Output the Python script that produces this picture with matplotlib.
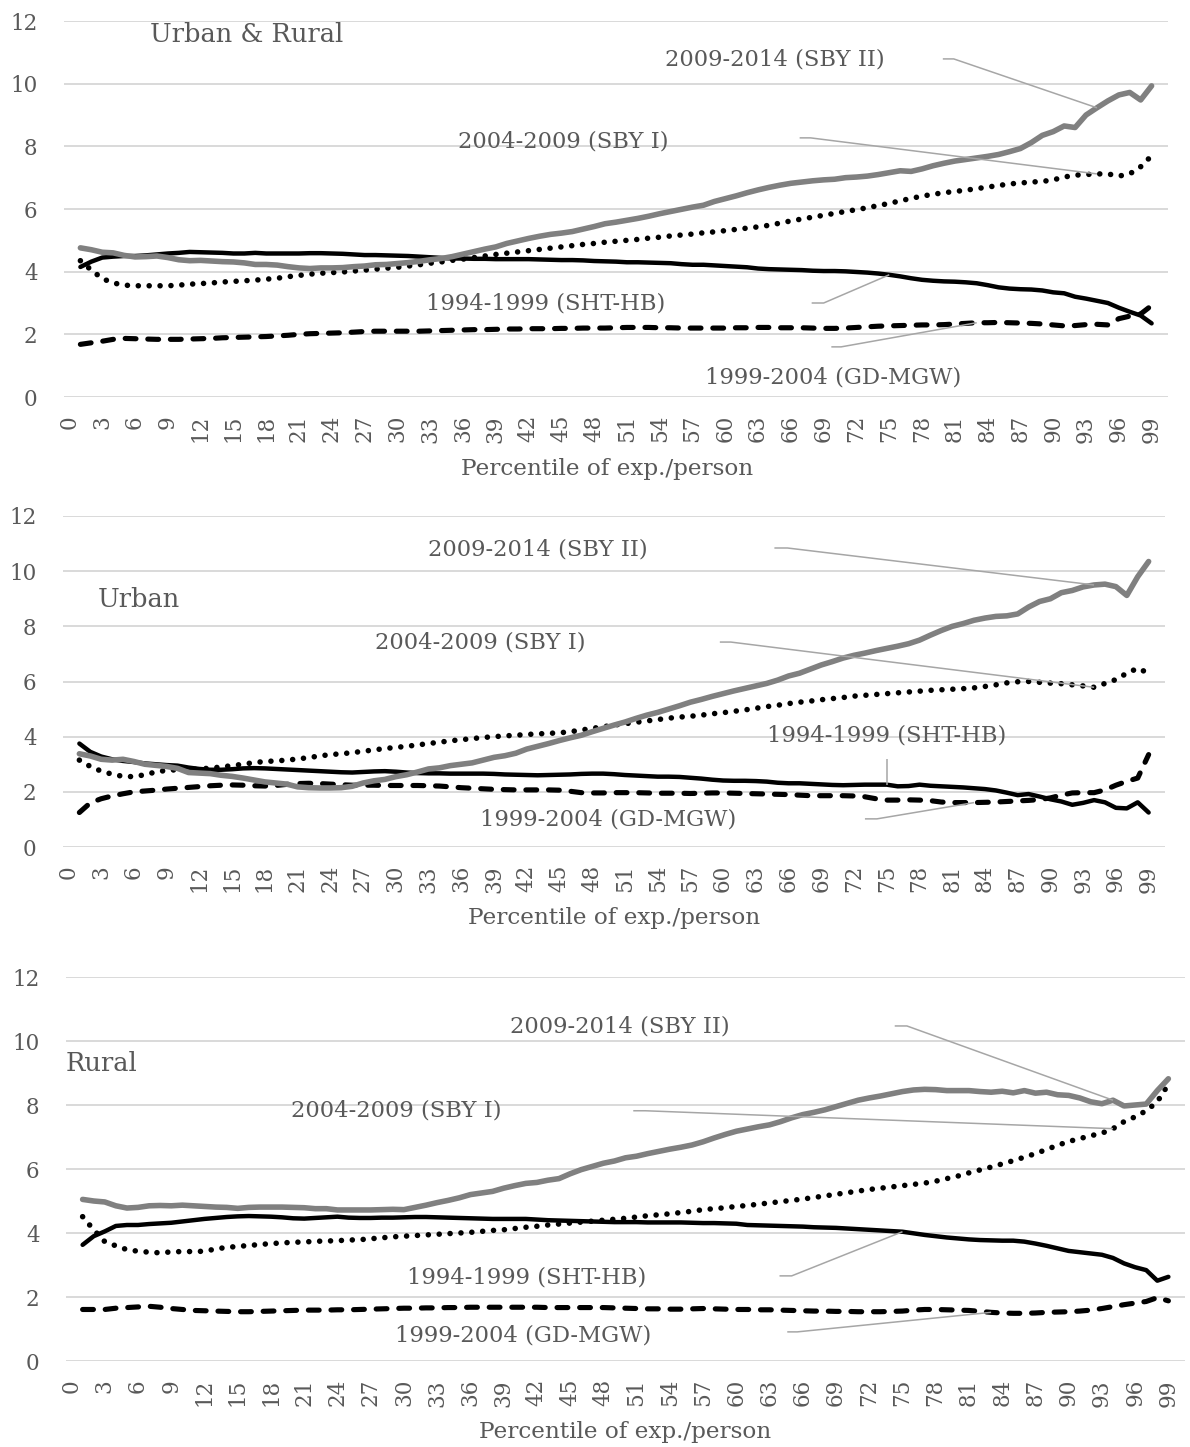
import matplotlib
matplotlib.use("Agg")
import matplotlib.pyplot as plt

# ---------------------------------------------------------------- data
percentiles = list(range(1, 100))
tick_values = list(range(0, 100, 3))
y_ticks = [0, 2, 4, 6, 8, 10, 12]

series_names = ["1994-1999 (SHT-HB)", "1999-2004 (GD-MGW)",
                "2004-2009 (SBY I)", "2009-2014 (SBY II)"]
panel_titles = ["Urban & Rural", "Urban", "Rural"]
x_label = "Percentile of exp./person"

# Urban & Rural
ur_shthb = [4.15, 4.32, 4.45, 4.48, 4.50, 4.50, 4.52, 4.55, 4.58, 4.60,
            4.63, 4.62, 4.61, 4.60, 4.58, 4.58, 4.60, 4.58, 4.58, 4.58,
            4.58, 4.59, 4.59, 4.58, 4.57, 4.55, 4.53, 4.53, 4.52, 4.51,
            4.50, 4.48, 4.46, 4.44, 4.42, 4.42, 4.41, 4.41, 4.40, 4.40,
            4.40, 4.40, 4.39, 4.38, 4.37, 4.37, 4.36, 4.34, 4.33, 4.32,
            4.30, 4.30, 4.29, 4.28, 4.27, 4.24, 4.22, 4.22, 4.20, 4.18,
            4.16, 4.14, 4.10, 4.08, 4.07, 4.06, 4.05, 4.03, 4.02, 4.02,
            4.01, 3.99, 3.97, 3.94, 3.90, 3.85, 3.79, 3.74, 3.71, 3.69,
            3.68, 3.66, 3.63, 3.57, 3.50, 3.46, 3.44, 3.43, 3.40, 3.34,
            3.31, 3.20, 3.14, 3.07, 3.00, 2.85, 2.72, 2.60, 2.35]
ur_gdmgw = [1.68, 1.73, 1.78, 1.84, 1.87, 1.86, 1.85, 1.84, 1.84, 1.84,
            1.85, 1.86, 1.87, 1.89, 1.90, 1.91, 1.92, 1.93, 1.95, 1.97,
            2.00, 2.02, 2.03, 2.04, 2.05, 2.07, 2.09, 2.10, 2.10, 2.10,
            2.10, 2.10, 2.11, 2.12, 2.13, 2.14, 2.15, 2.15, 2.16, 2.17,
            2.17, 2.18, 2.18, 2.18, 2.19, 2.19, 2.20, 2.20, 2.20, 2.21,
            2.22, 2.22, 2.22, 2.21, 2.21, 2.20, 2.20, 2.20, 2.20, 2.20,
            2.21, 2.21, 2.22, 2.22, 2.21, 2.21, 2.21, 2.20, 2.19, 2.19,
            2.20, 2.22, 2.24, 2.26, 2.27, 2.28, 2.29, 2.30, 2.30, 2.31,
            2.33, 2.35, 2.37, 2.37, 2.38, 2.37, 2.36, 2.35, 2.33, 2.30,
            2.27, 2.28, 2.31, 2.32, 2.30, 2.50, 2.58, 2.65, 2.92]
ur_sby1 = [4.35, 4.05, 3.78, 3.64, 3.57, 3.55, 3.55, 3.55, 3.55, 3.57,
           3.60, 3.62, 3.64, 3.67, 3.69, 3.71, 3.73, 3.76, 3.79, 3.84,
           3.88, 3.92, 3.95, 3.97, 3.99, 4.02, 4.05, 4.08, 4.11, 4.14,
           4.18, 4.22, 4.27, 4.31, 4.36, 4.40, 4.45, 4.50, 4.55, 4.59,
           4.63, 4.67, 4.71, 4.75, 4.79, 4.83, 4.87, 4.90, 4.94, 4.97,
           5.00, 5.03, 5.07, 5.10, 5.14, 5.17, 5.20, 5.24, 5.27, 5.31,
           5.35, 5.39, 5.43, 5.48, 5.55, 5.62, 5.68, 5.74, 5.80, 5.86,
           5.92, 5.98, 6.04, 6.11, 6.18, 6.26, 6.34, 6.41, 6.47, 6.52,
           6.56, 6.60, 6.65, 6.70, 6.75, 6.80, 6.83, 6.86, 6.88, 6.93,
           7.02, 7.08, 7.10, 7.12, 7.12, 7.05, 7.12, 7.35, 7.70]
ur_sby2 = [4.76, 4.70, 4.62, 4.60, 4.52, 4.47, 4.48, 4.50, 4.45, 4.38,
           4.35, 4.36, 4.34, 4.32, 4.31, 4.28, 4.23, 4.23, 4.21, 4.16,
           4.12, 4.10, 4.12, 4.12, 4.13, 4.16, 4.18, 4.22, 4.23, 4.26,
           4.29, 4.33, 4.38, 4.42, 4.48, 4.56, 4.64, 4.72, 4.79, 4.90,
           4.98, 5.06, 5.13, 5.19, 5.23, 5.28, 5.36, 5.44, 5.53, 5.58,
           5.64, 5.70, 5.77, 5.85, 5.92, 5.99, 6.06, 6.12, 6.24, 6.33,
           6.42, 6.52, 6.61, 6.69, 6.76, 6.82, 6.86, 6.90, 6.93, 6.95,
           7.00, 7.02, 7.05, 7.10, 7.16, 7.22, 7.20, 7.28, 7.38, 7.46,
           7.53, 7.58, 7.63, 7.68, 7.74, 7.83, 7.93, 8.12, 8.35, 8.47,
           8.65, 8.60, 9.00, 9.23, 9.45, 9.64, 9.72, 9.48, 9.93]

# Urban
u_shthb = [3.75, 3.45, 3.28, 3.18, 3.12, 3.08, 3.03, 3.00, 2.97, 2.95,
           2.88, 2.83, 2.80, 2.80, 2.82, 2.85, 2.86, 2.85, 2.83, 2.81,
           2.79, 2.77, 2.75, 2.73, 2.71, 2.70, 2.72, 2.74, 2.75, 2.73,
           2.70, 2.68, 2.67, 2.67, 2.66, 2.66, 2.66, 2.66, 2.65, 2.63,
           2.62, 2.61, 2.60, 2.61, 2.62, 2.63, 2.65, 2.66, 2.66, 2.64,
           2.61, 2.59, 2.57, 2.55, 2.55, 2.54, 2.51, 2.48, 2.44, 2.41,
           2.40, 2.40, 2.39, 2.37, 2.33, 2.31, 2.31, 2.29, 2.27, 2.25,
           2.24, 2.25, 2.26, 2.26, 2.26, 2.20, 2.21, 2.26, 2.22, 2.20,
           2.18, 2.16, 2.13, 2.10, 2.05, 1.97, 1.88, 1.92, 1.83, 1.73,
           1.65, 1.53, 1.60, 1.70, 1.62, 1.42, 1.40, 1.62, 1.25]
u_gdmgw = [1.25, 1.60, 1.75, 1.85, 1.93, 2.00, 2.03, 2.06, 2.10, 2.13,
           2.16, 2.19, 2.22, 2.24, 2.25, 2.24, 2.22, 2.21, 2.23, 2.27,
           2.30, 2.31, 2.30, 2.28, 2.26, 2.24, 2.24, 2.24, 2.23, 2.23,
           2.23, 2.23, 2.22, 2.21, 2.18, 2.15, 2.13, 2.11, 2.09, 2.08,
           2.07, 2.07, 2.07, 2.07, 2.06, 2.02, 1.97, 1.96, 1.96, 1.97,
           1.97, 1.97, 1.96, 1.95, 1.95, 1.95, 1.94, 1.95, 1.96, 1.96,
           1.95, 1.94, 1.93, 1.92, 1.91, 1.90, 1.88, 1.86, 1.86, 1.86,
           1.86, 1.85, 1.82, 1.75, 1.70, 1.70, 1.71, 1.70, 1.68, 1.63,
           1.61, 1.61, 1.61, 1.62, 1.63, 1.65, 1.67, 1.69, 1.72, 1.78,
           1.88, 1.96, 1.97, 1.97, 2.07, 2.24, 2.38, 2.50, 3.35]
u_sby1 = [3.15, 2.92, 2.75, 2.64, 2.56, 2.55, 2.62, 2.72, 2.78, 2.80,
          2.80, 2.83, 2.86, 2.90, 2.95, 3.00, 3.06, 3.10, 3.12, 3.15,
          3.19, 3.24, 3.30, 3.35, 3.38, 3.42, 3.47, 3.52, 3.57, 3.61,
          3.65, 3.70, 3.75, 3.80, 3.85, 3.89, 3.93, 3.97, 4.00, 4.03,
          4.05, 4.08, 4.10, 4.12, 4.14, 4.18, 4.24, 4.30, 4.36, 4.42,
          4.47, 4.52, 4.57, 4.62, 4.67, 4.71, 4.74, 4.78, 4.83, 4.87,
          4.92, 4.97, 5.03, 5.09, 5.14, 5.20, 5.25, 5.29, 5.34, 5.38,
          5.42, 5.47, 5.50, 5.53, 5.56, 5.59, 5.62, 5.65, 5.68, 5.70,
          5.72, 5.74, 5.77, 5.82, 5.88, 5.95, 5.99, 6.00, 5.97, 5.94,
          5.92, 5.88, 5.84, 5.79, 5.93, 6.07, 6.30, 6.48, 6.30]
u_sby2 = [3.38, 3.30, 3.18, 3.15, 3.18, 3.10, 3.00, 2.96, 2.92, 2.85,
          2.70, 2.68, 2.66, 2.60, 2.56, 2.50, 2.43, 2.36, 2.32, 2.28,
          2.18, 2.15, 2.14, 2.14, 2.15, 2.20, 2.32, 2.40, 2.45, 2.55,
          2.62, 2.72, 2.83, 2.87, 2.95, 3.00, 3.05, 3.15, 3.25, 3.31,
          3.40, 3.55, 3.65, 3.75, 3.86, 3.96, 4.05, 4.18, 4.30, 4.42,
          4.53, 4.66, 4.78, 4.88, 5.00, 5.12, 5.25, 5.35, 5.46, 5.56,
          5.66, 5.75, 5.84, 5.93, 6.05, 6.20, 6.30, 6.45, 6.60, 6.72,
          6.85, 6.95, 7.03, 7.12, 7.20, 7.28, 7.37, 7.50, 7.68, 7.85,
          8.00, 8.10, 8.22, 8.30, 8.36, 8.38, 8.45, 8.70, 8.90, 9.00,
          9.22, 9.30, 9.43, 9.50, 9.53, 9.44, 9.12, 9.80, 10.35]

# Rural
r_shthb = [3.63, 3.90, 4.05, 4.22, 4.25, 4.25, 4.28, 4.30, 4.32, 4.36,
           4.40, 4.44, 4.47, 4.50, 4.52, 4.53, 4.52, 4.51, 4.49, 4.46,
           4.45, 4.47, 4.49, 4.51, 4.48, 4.47, 4.47, 4.48, 4.48, 4.49,
           4.50, 4.50, 4.49, 4.48, 4.47, 4.46, 4.45, 4.44, 4.44, 4.44,
           4.44, 4.42, 4.40, 4.39, 4.38, 4.37, 4.36, 4.35, 4.34, 4.34,
           4.34, 4.33, 4.33, 4.33, 4.33, 4.32, 4.31, 4.31, 4.30, 4.29,
           4.25, 4.24, 4.23, 4.22, 4.21, 4.20, 4.18, 4.17, 4.16, 4.14,
           4.12, 4.10, 4.08, 4.06, 4.04, 3.99, 3.94, 3.90, 3.86, 3.83,
           3.80, 3.78, 3.77, 3.76, 3.76, 3.73, 3.67, 3.60, 3.52, 3.44,
           3.40, 3.36, 3.32, 3.22, 3.05, 2.93, 2.84, 2.51, 2.63]
r_gdmgw = [1.61, 1.61, 1.61, 1.65, 1.67, 1.69, 1.71, 1.68, 1.64, 1.61,
           1.58, 1.57, 1.56, 1.55, 1.54, 1.54, 1.55, 1.56, 1.57, 1.58,
           1.59, 1.59, 1.59, 1.60, 1.60, 1.61, 1.62, 1.63, 1.64, 1.65,
           1.65, 1.66, 1.66, 1.67, 1.67, 1.68, 1.68, 1.68, 1.68, 1.68,
           1.68, 1.68, 1.67, 1.67, 1.67, 1.67, 1.67, 1.67, 1.66, 1.65,
           1.64, 1.63, 1.63, 1.62, 1.62, 1.63, 1.64, 1.63, 1.62, 1.61,
           1.61, 1.60, 1.60, 1.59, 1.58, 1.57, 1.56, 1.56, 1.55, 1.55,
           1.54, 1.54, 1.54, 1.55, 1.56, 1.59, 1.61, 1.61, 1.60, 1.59,
           1.58, 1.55, 1.52, 1.50, 1.49, 1.49, 1.50, 1.52, 1.53, 1.54,
           1.56, 1.59, 1.64, 1.70, 1.76, 1.81, 1.86, 1.98, 1.88]
r_sby1 = [4.51, 4.10, 3.73, 3.60, 3.48, 3.43, 3.40, 3.38, 3.41, 3.42,
          3.42, 3.43, 3.50, 3.55, 3.58, 3.61, 3.64, 3.67, 3.69, 3.71,
          3.72, 3.74, 3.75, 3.76, 3.78, 3.79, 3.82, 3.85, 3.88, 3.90,
          3.92, 3.94, 3.96, 3.98, 4.00, 4.02, 4.05, 4.08, 4.10, 4.14,
          4.18, 4.21, 4.25, 4.28, 4.31, 4.34, 4.37, 4.40, 4.43, 4.46,
          4.50, 4.54, 4.57, 4.60, 4.64, 4.68, 4.73, 4.76, 4.79, 4.83,
          4.86, 4.90, 4.94, 4.98, 5.02, 5.06, 5.11, 5.16, 5.21, 5.26,
          5.31, 5.36, 5.40, 5.44, 5.48, 5.52, 5.56, 5.62, 5.70, 5.78,
          5.88, 5.97, 6.06, 6.16, 6.26, 6.37, 6.48, 6.61, 6.74, 6.86,
          6.95, 7.04, 7.12, 7.26, 7.48, 7.63, 7.82, 8.10, 8.65]
r_sby2 = [5.05, 5.00, 4.97, 4.85, 4.78, 4.80, 4.85, 4.86, 4.85, 4.87,
          4.85, 4.83, 4.81, 4.80, 4.77, 4.80, 4.81, 4.81, 4.81, 4.80,
          4.79, 4.76, 4.76, 4.72, 4.72, 4.72, 4.72, 4.73, 4.74, 4.73,
          4.80, 4.87, 4.95, 5.02, 5.10, 5.20, 5.25, 5.30, 5.40, 5.48,
          5.55, 5.58, 5.65, 5.70, 5.85, 5.98, 6.08, 6.18, 6.25, 6.35,
          6.40, 6.48, 6.55, 6.62, 6.68, 6.75, 6.85, 6.97, 7.08, 7.18,
          7.25, 7.32, 7.38, 7.48, 7.60, 7.70, 7.77, 7.85, 7.95, 8.05,
          8.15, 8.22, 8.28, 8.35, 8.42, 8.47, 8.49, 8.48, 8.45, 8.45,
          8.45, 8.42, 8.40, 8.43, 8.38, 8.45, 8.37, 8.40, 8.32, 8.30,
          8.22, 8.10, 8.04, 8.15, 7.97, 8.00, 8.03, 8.45, 8.82]

# ---------------------------------------------------------------- styling
TEXT = "#595959"
GRID = "#d9d9d9"
LEADER = "#a6a6a6"
FONT = "DejaVu Serif"

plt.rcParams["font.family"] = FONT

styles = [
    dict(color="black", lw=3.2, ls="-", solid_capstyle="round", zorder=3),
    dict(color="black", lw=3.7, ls=(0, (2.1, 2.3)), dash_capstyle="round", zorder=4),
    dict(color="black", lw=4.0, ls=(0, (0.01, 1.95)), dash_capstyle="round", zorder=5),
    dict(color="#808080", lw=4.0, ls="-", solid_capstyle="round", zorder=6),
]

# label placement per panel: (text x, text y, leader start x, leader start y,
# horizontal stub length, percentile the leader points to)
panels = [
    dict(title=panel_titles[0], title_xy=(7.4, 11.58),
         rect=[64 / 1190, 1 - 397 / 1447, 1104 / 1190, 376 / 1447],
         data=[ur_shthb, ur_gdmgw, ur_sby1, ur_sby2], xlabel_x=0.492, xlabel_y=-0.192,
         labels=[(43.6, 2.97, 67.9, 3.0, 1.1, 75),
                 (69.9, 0.61, 69.7, 1.6, 0.9, 83),
                 (45.2, 8.17, 66.8, 8.27, 1.0, 94),
                 (64.5, 10.76, 79.9, 10.79, 1.0, 94)]),
    dict(title=panel_titles[1], title_xy=(2.7, 8.96),
         rect=[63 / 1190, 1 - 847 / 1447, 1102 / 1190, 331 / 1447],
         data=[u_shthb, u_gdmgw, u_sby1, u_sby2], xlabel_x=0.5, xlabel_y=-0.2145,
         labels=[(75.0, 4.06, 75.0, 3.19, 0.0, 75),
                 (49.5, 0.98, 73.0, 1.02, 1.1, 83),
                 (37.7, 7.40, 59.7, 7.43, 1.0, 94),
                 (43.0, 10.77, 64.7, 10.84, 1.2, 94)]),
    dict(title=panel_titles[2], title_xy=(-0.5, 9.31),
         rect=[66 / 1190, 1 - 1361 / 1447, 1119 / 1190, 384 / 1447],
         data=[r_shthb, r_gdmgw, r_sby1, r_sby2], xlabel_x=0.5, xlabel_y=-0.185,
         labels=[(41.1, 2.62, 63.9, 2.66, 1.1, 75),
                 (40.8, 0.81, 64.6, 0.91, 0.9, 83),
                 (29.3, 7.84, 50.7, 7.82, 1.1, 94),
                 (49.5, 10.44, 74.3, 10.47, 1.1, 94)]),
]

fig = plt.figure(figsize=(11.9, 14.47), dpi=100)

for pan in panels:
    ax = fig.add_axes(pan["rect"])
    ax.set_xlim(-0.5, 100.5)
    ax.set_ylim(0, 12)
    ax.set_yticks(y_ticks)
    ax.set_xticks(tick_values)
    ax.set_xticklabels([str(v) for v in tick_values], rotation=90)
    ax.tick_params(axis="both", length=0, labelcolor=TEXT, labelsize=15.5)
    ax.tick_params(axis="y", pad=19)
    ax.tick_params(axis="x", pad=13)
    for sp in ax.spines.values():
        sp.set_visible(False)
    ax.grid(axis="y", color=GRID, lw=1.4, zorder=0)
    ax.set_axisbelow(True)

    for values, st in zip(pan["data"], styles):
        ax.plot(percentiles, values, **st)

    for name, values, (tx, ty, sx, sy, stub, target) in zip(
            series_names, pan["data"], pan["labels"]):
        ax.text(tx, ty, name, ha="center", va="center", color=TEXT,
                fontsize=16.3, zorder=8)
        ty_end = values[percentiles.index(target)]
        ax.plot([sx, sx + stub, target], [sy, sy, ty_end],
                color=LEADER, lw=1.1, zorder=7, solid_capstyle="butt")

    tx, ty = pan["title_xy"]
    ax.text(tx, ty, pan["title"], ha="left", va="center", color=TEXT,
            fontsize=18.5, zorder=8)

    ax.set_xlabel(x_label, color=TEXT, fontsize=16.7)
    ax.xaxis.set_label_coords(pan["xlabel_x"], pan["xlabel_y"])
    ax.xaxis.label.set_va("center")

fig.savefig("out.png", dpi=100, facecolor="white")
